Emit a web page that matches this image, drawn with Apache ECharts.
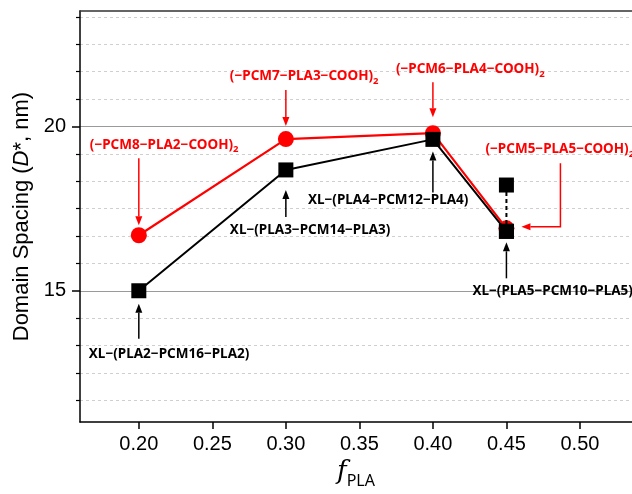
<!DOCTYPE html>
<html>
<head>
<meta charset="utf-8">
<script src="https://cdn.jsdelivr.net/npm/echarts@6.0.0/dist/echarts.min.js"></script>
<style>
  html, body { margin: 0; padding: 0; background: #fff; }
  #chart { width: 632px; height: 494px; }
</style>
</head>
<body>
<div id="chart"></div>
<script>
// values
const xValues = [0.20, 0.30, 0.40, 0.45]
const coohSpacing = [16.69, 19.62, 19.8, 16.9]
const xlSpacing = [15.0, 18.68, 19.61, 16.81]
const xlAltX = [0.45, 0.45]
const xlAltSpacing = [18.22, 16.81]

const xTickValues = [0.20, 0.25, 0.30, 0.35, 0.40, 0.45, 0.50]
const yMajorTicks = [15, 20]
const yMinorTicks = [11.67, 12.5, 13.33, 14.17, 15.83, 16.67, 17.5, 18.33, 19.17, 20.83, 21.67, 22.5, 23.33]

const coohNames = ['(−PCM8−PLA2−COOH)', '(−PCM7−PLA3−COOH)', '(−PCM6−PLA4−COOH)', '(−PCM5−PLA5−COOH)']
const xlNames = ['XL−(PLA2−PCM16−PLA2)', 'XL−(PLA3−PCM14−PLA3)', 'XL−(PLA4−PCM12−PLA4)', 'XL−(PLA5−PCM10−PLA5)']

const RED = '#ff0000'
const BLACK = '#000000'
const labelFont = '"Noto Sans", "DejaVu Sans", sans-serif'
const X_MIN = 0.16
const X_MAX = 0.5354

const chart = echarts.init(document.getElementById('chart'), null, { renderer: 'canvas' })

const zip = (xs, ys) => xs.map((x, i) => [x, ys[i]])

chart.setOption({
  animation: false,
  backgroundColor: '#fff',
  grid: {
    left: 80,
    right: 0,
    top: 11,
    bottom: 69
  },
  xAxis: [
    {
      type: 'value',
      min: X_MIN,
      max: X_MAX,
      axisLine: { show: true, onZero: false, lineStyle: { color: BLACK, width: 1.5 } },
      axisTick: { show: true, customValues: xTickValues, length: 7, lineStyle: { color: BLACK, width: 1.5 } },
      axisLabel: {
        customValues: xTickValues,
        formatter: v => v.toFixed(2),
        fontSize: 20,
        fontFamily: '"Liberation Sans", Arial, sans-serif',
        color: BLACK,
        margin: 12
      },
      splitLine: { show: false },
      name: '{f|f}{s|PLA}',
      nameLocation: 'middle',
      nameGap: 35,
      nameTextStyle: {
        rich: {
          f: { fontSize: 26, fontStyle: 'italic', fontFamily: '"DejaVu Serif", serif', color: BLACK, verticalAlign: 'bottom', padding: [0, 0, 4, 0] },
          s: { fontSize: 16, fontFamily: labelFont, color: BLACK, verticalAlign: 'bottom' }
        }
      }
    },
    {
      // top frame line only
      type: 'value',
      position: 'top',
      min: X_MIN,
      max: X_MAX,
      axisLine: { show: true, onZero: false, lineStyle: { color: '#333', width: 1.5 } },
      axisTick: { show: false },
      axisLabel: { show: false },
      splitLine: { show: false }
    }
  ],
  yAxis: [
    {
      type: 'value',
      min: 11,
      max: 23.52,
      position: 'left',
      axisLine: { show: true, onZero: false, lineStyle: { color: BLACK, width: 1.5 } },
      axisTick: { show: true, customValues: yMajorTicks, length: 8, lineStyle: { color: BLACK, width: 1.5 } },
      axisLabel: {
        customValues: yMajorTicks,
        fontSize: 20,
        fontFamily: '"Liberation Sans", Arial, sans-serif',
        color: BLACK,
        margin: 14
      },
      splitLine: { show: true, lineStyle: { color: '#9a9a9a', width: 1 } },
      name: 'Domain Spacing ({i|D}*, nm)',
      nameLocation: 'middle',
      nameGap: 46,
      nameTextStyle: {
        fontSize: 22,
        fontFamily: '"Liberation Sans", Arial, sans-serif',
        color: BLACK,
        rich: {
          i: { fontSize: 22, fontStyle: 'italic', fontFamily: '"Liberation Sans", Arial, sans-serif', color: BLACK }
        }
      }
    },
    {
      type: 'value',
      min: 11,
      max: 23.52,
      position: 'left',
      axisLine: { show: false },
      axisTick: { show: true, customValues: yMinorTicks, length: 4, lineStyle: { color: BLACK, width: 1.2 } },
      axisLabel: { show: false },
      splitLine: { show: true, lineStyle: { color: '#cfcfcf', width: 1, type: [3, 3] } }
    }
  ],
  series: [
    {
      name: 'COOH',
      type: 'line',
      data: zip(xValues, coohSpacing),
      symbol: 'circle',
      symbolSize: 16,
      itemStyle: { color: RED },
      lineStyle: { color: RED, width: 2.2 },
      z: 3
    },
    {
      name: 'XL alt',
      type: 'line',
      data: zip(xlAltX, xlAltSpacing),
      symbol: 'rect',
      symbolSize: 15,
      itemStyle: { color: BLACK },
      lineStyle: { color: BLACK, width: 2, type: [4, 3] },
      z: 4
    },
    {
      name: 'XL',
      type: 'line',
      data: zip(xValues, xlSpacing),
      symbol: 'rect',
      symbolSize: 15,
      itemStyle: { color: BLACK },
      lineStyle: { color: BLACK, width: 2 },
      z: 5
    }
  ]
})

// annotation placement, in pixels relative to the marker it points at
const coohNoteLayout = [
  { dx: -49, dy: -89, arrow: [[0, -77], [0, -10]] },
  { dx: -56, dy: -61, arrow: [[0, -49], [0, -13]] },
  { dx: -37, dy: -62, arrow: [[0, -51], [0, -16]] },
  { dx: -21, dy: -78, arrow: [[54, -65], [54, -1.5], [15, -1.5]] }
]
const xlNoteLayout = [
  { dx: -50, dy: 63, arrow: [[0, 48], [0, 13]] },
  { dx: -56, dy: 60, arrow: [[0, 47], [0, 20]] },
  { dx: -125, dy: 61, arrow: [[0, 53], [0, 12]] },
  { dx: -34, dy: 60, arrow: [[0, 47], [0, 11]] }
]

function arrowElements (p, rel, color) {
  const pts = rel.map(r => [p[0] + r[0], p[1] + r[1]])
  const n = pts.length
  const tip = pts[n - 1]
  const prev = pts[n - 2]
  const len = Math.hypot(tip[0] - prev[0], tip[1] - prev[1])
  const ux = (tip[0] - prev[0]) / len
  const uy = (tip[1] - prev[1]) / len
  const headLen = 9
  const halfW = 3.5
  const base = [tip[0] - ux * headLen, tip[1] - uy * headLen]
  const linePts = pts.slice(0, n - 1).concat([base])
  return [
    {
      type: 'polyline',
      silent: true,
      z: 10,
      shape: { points: linePts },
      style: { stroke: color, lineWidth: 1.5, fill: null }
    },
    {
      type: 'polygon',
      silent: true,
      z: 10,
      shape: {
        points: [
          tip,
          [base[0] - uy * halfW, base[1] + ux * halfW],
          [base[0] + uy * halfW, base[1] - ux * halfW]
        ]
      },
      style: { fill: color }
    }
  ]
}

function buildNotes () {
  const els = []
  xValues.forEach((x, i) => {
    const pr = chart.convertToPixel({ xAxisIndex: 0, yAxisIndex: 0 }, [x, coohSpacing[i]])
    const lr = coohNoteLayout[i]
    els.push({
      type: 'text',
      silent: true,
      z: 11,
      x: pr[0] + lr.dx,
      y: pr[1] + lr.dy,
      style: {
        text: '{m|' + coohNames[i] + '}{s|2}',
        align: 'left',
        verticalAlign: 'middle',
        textAlign: 'left',
        textVerticalAlign: 'middle',
        rich: {
          m: { fontSize: 13.5, fontWeight: 'bold', fontFamily: labelFont, fill: RED, color: RED, verticalAlign: 'bottom', padding: [0, 0, 3, 0] },
          s: { fontSize: 9.5, fontWeight: 'bold', fontFamily: labelFont, fill: RED, color: RED, verticalAlign: 'bottom' }
        }
      }
    })
    arrowElements(pr, lr.arrow, RED).forEach(e => els.push(e))

    const pb = chart.convertToPixel({ xAxisIndex: 0, yAxisIndex: 0 }, [x, xlSpacing[i]])
    const lb = xlNoteLayout[i]
    els.push({
      type: 'text',
      silent: true,
      z: 11,
      x: pb[0] + lb.dx,
      y: pb[1] + lb.dy,
      style: {
        text: xlNames[i],
        fill: BLACK,
        font: 'bold 13.5px ' + labelFont,
        align: 'left',
        verticalAlign: 'middle',
        textAlign: 'left',
        textVerticalAlign: 'middle'
      }
    })
    arrowElements(pb, lb.arrow, BLACK).forEach(e => els.push(e))
  })
  return els
}

chart.setOption({ graphic: buildNotes() })
</script>
</body>
</html>
